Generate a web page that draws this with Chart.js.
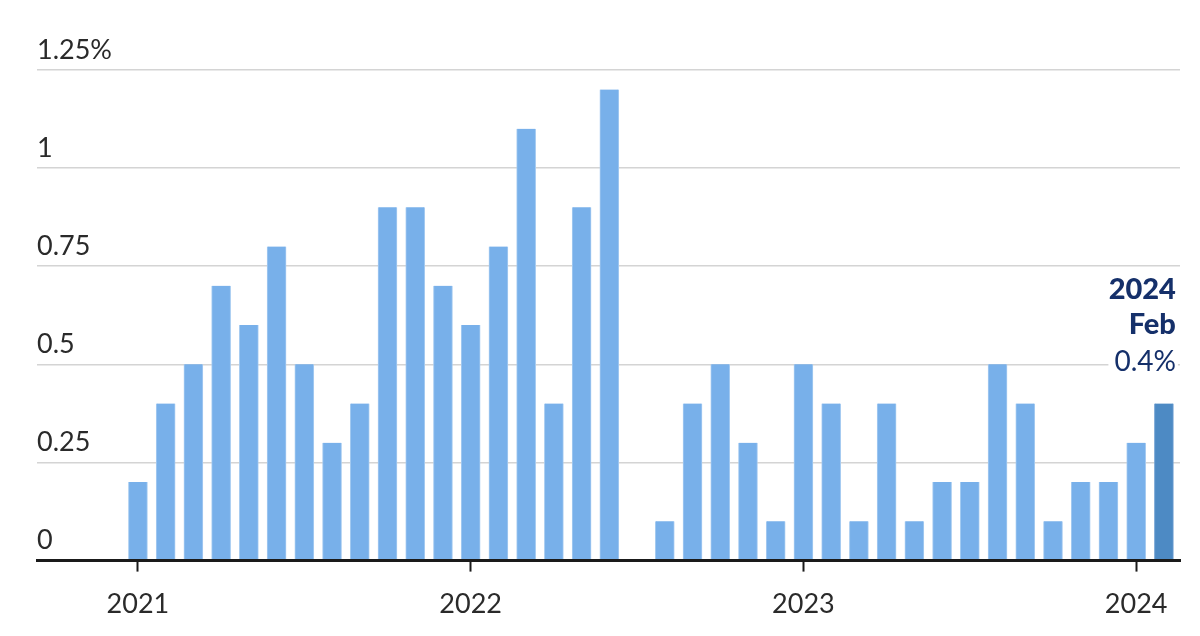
<!DOCTYPE html>
<html>
<head>
<meta charset="utf-8">
<script src="https://cdn.jsdelivr.net/npm/chart.js@4.4.1/dist/chart.umd.min.js"></script>
<style>
    html, body { margin: 0; padding: 0; background: #fff; }
    #wrap { width: 1200px; height: 636px; position: relative; }
</style>
</head>
<body>
<div id="wrap"><canvas id="cpiChart"></canvas></div>
<script>
// monthly change, Jan 2021 .. Feb 2024 (index 0 = Jan 2021)
var months = ["Jan 2021","Feb 2021","Mar 2021","Apr 2021","May 2021","Jun 2021","Jul 2021","Aug 2021","Sep 2021","Oct 2021","Nov 2021","Dec 2021",
              "Jan 2022","Feb 2022","Mar 2022","Apr 2022","May 2022","Jun 2022","Jul 2022","Aug 2022","Sep 2022","Oct 2022","Nov 2022","Dec 2022",
              "Jan 2023","Feb 2023","Mar 2023","Apr 2023","May 2023","Jun 2023","Jul 2023","Aug 2023","Sep 2023","Oct 2023","Nov 2023","Dec 2023",
              "Jan 2024","Feb 2024"];
var values = [0.2, 0.4, 0.5, 0.7, 0.6, 0.8, 0.5, 0.3, 0.4, 0.9, 0.9, 0.7,
              0.6, 0.8, 1.1, 0.4, 0.9, 1.2, 0.0, 0.1, 0.4, 0.5, 0.3, 0.1,
              0.5, 0.4, 0.1, 0.4, 0.1, 0.2, 0.2, 0.5, 0.4, 0.1, 0.2, 0.2,
              0.3, 0.4];
var yearTicks = [2021, 2022, 2023, 2024];
var yTicks = [0, 0.25, 0.5, 0.75, 1, 1.25];
var latestYear = "2024";
var latestMonth = "Feb";
var latestLabel = "0.4%";

var barColor = '#78b0ea';
var latestColor = '#4d8ac4';
var navy = '#15306a';
var FONT = 'Lato, "Open Sans", sans-serif';

var points = values.map(function (v, i) { return { x: i, y: v }; });

var latestNote = {
    id: 'latestNote',
    afterDatasetsDraw: function (chart) {
        var meta = chart.getDatasetMeta(0);
        var bar = meta.data[meta.data.length - 1];
        var ctx = chart.ctx;
        var right = bar.x + 12;
        var base = bar.y;
        ctx.save();
        ctx.textAlign = 'right';
        ctx.textBaseline = 'middle';
        ctx.font = '28px ' + FONT;
        var w = ctx.measureText(latestLabel).width;
        ctx.fillStyle = '#fff';
        ctx.fillRect(right - w - 6, base - 58, w + 8, 30);
        ctx.fillStyle = navy;
        ctx.fillText(latestLabel, right, base - 42);
        ctx.font = '900 29px ' + FONT;
        ctx.fillText(latestMonth, right, base - 79);
        ctx.fillText(latestYear, right, base - 114);
        ctx.restore();
    }
};

var ctx = document.getElementById('cpiChart');

var cpiChart = new Chart(ctx, {
    type: 'bar',
    data: {
        datasets: [
            {
                label: 'CPI change',
                data: points,
                backgroundColor: values.map(function (v, i) { return i === values.length - 1 ? latestColor : barColor; }),
                borderColor: values.map(function (v, i) { return i === values.length - 1 ? '#6fa0d2' : '#a6cbf1'; }),
                borderWidth: { left: 1, right: 1, top: 0, bottom: 0 },
                barThickness: 19,
                borderSkipped: false
            }
        ]
    },
    plugins: [latestNote],
    options: {
        responsive: true,
        maintainAspectRatio: false,
        animation: false,
        layout: {
            padding: { left: 37, right: 20, top: 70, bottom: 0 }
        },
        plugins: {
            legend: { display: false },
            tooltip: { enabled: false }
        },
        scales: {
            x: {
                type: 'linear',
                offset: false,
                min: -3.64,
                max: 37.58,
                afterBuildTicks: function (axis) {
                    axis.ticks = yearTicks.map(function (y) { return { value: (y - 2021) * 12 }; });
                },
                ticks: {
                    color: '#2a2a2a',
                    font: { family: FONT, size: 27 },
                    padding: 16,
                    maxRotation: 0,
                    callback: function (value) { return String(2021 + value / 12); }
                },
                grid: {
                    offset: false,
                    drawOnChartArea: false,
                    drawTicks: true,
                    tickLength: 11,
                    tickWidth: 2,
                    tickColor: '#1a1a1a'
                },
                border: { display: true, color: '#1a1a1a', width: 3, z: 1 }
            },
            y: {
                min: 0,
                max: 1.25,
                afterBuildTicks: function (axis) {
                    axis.ticks = yTicks.map(function (v) { return { value: v }; });
                },
                ticks: {
                    mirror: true,
                    padding: 0,
                    labelOffset: -20,
                    color: '#2a2a2a',
                    font: { family: FONT, size: 27 },
                    callback: function (value) { return value === 1.25 ? '1.25%' : String(value); }
                },
                grid: {
                    color: '#d4d4d4',
                    lineWidth: 1.5,
                    drawTicks: false
                },
                border: { display: false }
            }
        }
    }
});
</script>
</body>
</html>
